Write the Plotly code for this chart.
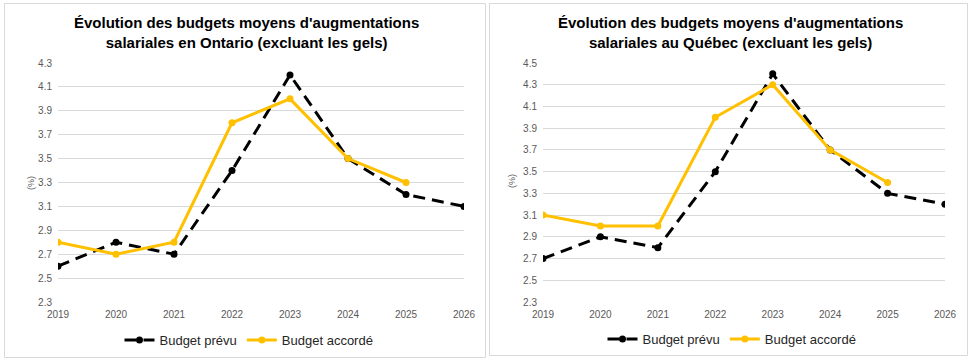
import plotly.graph_objects as go

years = [2019, 2020, 2021, 2022, 2023, 2024, 2025, 2026]
on_prevu = [2.6, 2.8, 2.7, 3.4, 4.2, 3.5, 3.2, 3.1]
on_accorde = [2.8, 2.7, 2.8, 3.8, 4.0, 3.5, 3.3, None]
qc_prevu = [2.7, 2.9, 2.8, 3.5, 4.4, 3.7, 3.3, 3.2]
qc_accorde = [3.1, 3.0, 3.0, 4.0, 4.3, 3.7, 3.4, None]
on_ticks = [2.3, 2.5, 2.7, 2.9, 3.1, 3.3, 3.5, 3.7, 3.9, 4.1, 4.3]
qc_ticks = [2.3, 2.5, 2.7, 2.9, 3.1, 3.3, 3.5, 3.7, 3.9, 4.1, 4.3, 4.5]
titles = ["Évolution des budgets moyens d'augmentations<br>salariales en Ontario (excluant les gels)",
          "Évolution des budgets moyens d'augmentations<br>salariales au Québec (excluant les gels)"]
names = ["Budget prévu", "Budget accordé"]

W, H = 972, 362
BLACK = "#000000"
GOLD = "#FFC000"
FONT = "Liberation Sans, Arial, sans-serif"

def px(x):
    return x / W

def py(y):
    return 1 - y / H

fig = go.Figure()
for i, (prev, acc, leg) in enumerate([(on_prevu, on_accorde, "legend"), (qc_prevu, qc_accorde, "legend2")]):
    xa = "x" if i == 0 else "x2"
    ya = "y" if i == 0 else "y2"
    fig.add_trace(go.Scatter(x=years, y=prev, name=names[0], mode="lines+markers",
                             line=dict(color=BLACK, width=3, dash="12px,7px"),
                             marker=dict(color=BLACK, size=7), xaxis=xa, yaxis=ya, legend=leg))
    fig.add_trace(go.Scatter(x=years, y=acc, name=names[1], mode="lines+markers",
                             line=dict(color=GOLD, width=3),
                             marker=dict(color=GOLD, size=7), xaxis=xa, yaxis=ya, legend=leg))

tickfont = dict(family=FONT, size=10, color="#595959")
common_x = dict(range=[2019, 2026], tickmode="array", tickvals=years, ticktext=[str(y) for y in years],
                showgrid=False, zeroline=False, showline=False, tickfont=tickfont, ticks="",
                ticklabelstandoff=5, fixedrange=True, automargin=False)
common_y = dict(showgrid=True, gridcolor="#D9D9D9", gridwidth=1, zeroline=False, showline=False,
                tickfont=tickfont, ticks="", tickformat=".1f", automargin=False, fixedrange=True,
                ticklabelstandoff=5)
legfont = dict(family=FONT, size=13, color="#262626")

fig.update_layout(
    width=W, height=H, autosize=False,
    margin=dict(l=0, r=0, t=0, b=0, autoexpand=False),
    paper_bgcolor="white", plot_bgcolor="white",
    xaxis=dict(domain=[px(58), px(464)], anchor="y", **common_x),
    yaxis=dict(domain=[py(302), py(63)], anchor="x", range=[2.3, 4.3], tickvals=on_ticks, **common_y),
    xaxis2=dict(domain=[px(543), px(945)], anchor="y2", **common_x),
    yaxis2=dict(domain=[py(302), py(63)], anchor="x2", range=[2.3, 4.5], tickvals=qc_ticks, **common_y),
    legend=dict(orientation="h", x=px(249), y=py(340), xanchor="center", yanchor="middle",
                font=legfont, bgcolor="rgba(0,0,0,0)"),
    legend2=dict(orientation="h", x=px(732), y=py(339), xanchor="center", yanchor="middle",
                 font=legfont, bgcolor="rgba(0,0,0,0)"),
    shapes=[
        dict(type="rect", xref="paper", yref="paper", x0=px(4.5), x1=px(485.5), y0=py(357.5), y1=py(3.5),
             line=dict(color="#D9D9D9", width=1)),
        dict(type="rect", xref="paper", yref="paper", x0=px(489.5), x1=px(967.5), y0=py(355.5), y1=py(3.5),
             line=dict(color="#D9D9D9", width=1)),
    ],
    annotations=[
        dict(text="<b>" + titles[0] + "</b>", x=px(246), y=py(32), xref="paper", yref="paper",
             showarrow=False, xanchor="center", yanchor="middle",
             font=dict(family=FONT, size=15, color="#000000")),
        dict(text="<b>" + titles[1] + "</b>", x=px(730), y=py(32), xref="paper", yref="paper",
             showarrow=False, xanchor="center", yanchor="middle",
             font=dict(family=FONT, size=15, color="#000000")),
        dict(text="(%)", x=px(24), y=py(183), xref="paper", yref="paper", showarrow=False,
             textangle=-90, font=dict(family=FONT, size=9, color="#595959")),
        dict(text="(%)", x=px(512), y=py(181), xref="paper", yref="paper", showarrow=False,
             textangle=-90, font=dict(family=FONT, size=9, color="#595959")),
    ],
)

fig.write_html("out.html", config={"displayModeBar": False},
               post_script="document.body.style.margin='0';document.body.style.overflow='hidden';")
